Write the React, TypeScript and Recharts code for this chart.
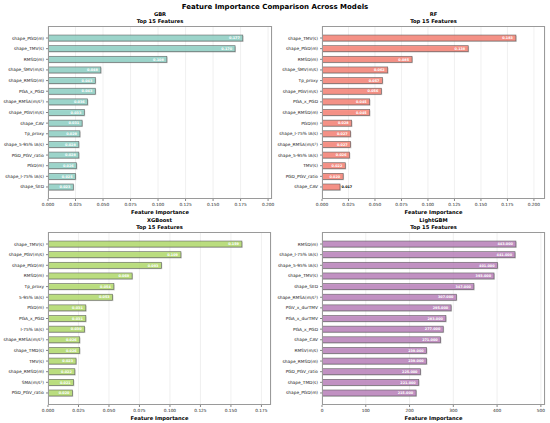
import { BarChart, Bar, XAxis, YAxis, CartesianGrid, LabelList } from "recharts";

const FONT = "'DejaVu Sans', sans-serif";

const gbrFeatures = ["shape_PGD(m)", "shape_TMV(s)", "RMSD(m)", "shape_SMV(m/s)", "shape_RMSD(m)", "PGA_x_PGD", "shape_RMSA(m/s²)", "shape_PGV(m/s)", "shape_CAV", "Tp_proxy", "shape_5-95% IA(s)", "PGD_PGV_ratio", "PGD(m)", "shape_I-75% IA(s)", "shape_SED"];
const gbrImportance = [0.177, 0.17, 0.108, 0.048, 0.043, 0.043, 0.036, 0.033, 0.031, 0.029, 0.028, 0.028, 0.026, 0.025, 0.023];

const rfFeatures = ["shape_TMV(s)", "shape_PGD(m)", "RMSD(m)", "shape_SMV(m/s)", "Tp_proxy", "shape_PGV(m/s)", "PGA_x_PGD", "shape_RMSD(m)", "PGD(m)", "shape_I-75% IA(s)", "shape_RMSA(m/s²)", "shape_5-95% IA(s)", "TMV(s)", "PGD_PGV_ratio", "shape_CAV"];
const rfImportance = [0.183, 0.138, 0.085, 0.062, 0.057, 0.056, 0.045, 0.045, 0.028, 0.027, 0.027, 0.026, 0.022, 0.02, 0.017];

const xgbFeatures = ["shape_TMV(s)", "shape_PGV(m/s)", "shape_PGD(m)", "RMSD(m)", "Tp_proxy", "5-95% IA(s)", "PGD(m)", "PGA_x_PGD", "I-75% IA(s)", "shape_RMSA(m/s²)", "shape_TMD(s)", "TMV(s)", "shape_RMSD(m)", "SMA(m/s²)", "PGD_PGV_ratio"];
const xgbImportance = [0.159, 0.109, 0.093, 0.069, 0.054, 0.053, 0.031, 0.031, 0.03, 0.026, 0.026, 0.023, 0.022, 0.021, 0.02];

const lgbmFeatures = ["RMSD(m)", "shape_I-75% IA(s)", "shape_5-95% IA(s)", "shape_TMV(s)", "shape_SED", "shape_RMSA(m/s²)", "PGV_x_durTMV", "PGA_x_durTMV", "PGA_x_PGD", "shape_CAV", "RMSV(m/s)", "shape_RMSD(m)", "PGD_PGV_ratio", "shape_TMD(s)", "shape_PGD(m)"];
const lgbmImportance = [443, 441, 401, 393, 347, 307, 295, 283, 277, 271, 239, 239, 225, 221, 215];

const ticks200 = [0, 0.025, 0.05, 0.075, 0.1, 0.125, 0.15, 0.175, 0.2];
const ticks175 = [0, 0.025, 0.05, 0.075, 0.1, 0.125, 0.15, 0.175];
const ticks500 = [0, 100, 200, 300, 400, 500];

const CHART_W = 275;
const CHART_H = 216;
const PLOT_TOP = 26;
const X_AXIS_H = 17;
const TICK_FONT = 4.3;

const ShadowBar = (props: any) => {
  const { x, y, width, height, fill } = props;
  if (!width || width <= 0) return null;
  return (
    <g>
      <rect x={x + 0.9} y={y + 0.9} width={width} height={height} fill="#8c8c8c" opacity={0.35} />
      <rect x={x} y={y} width={width} height={height} fill={fill} fillOpacity={0.8} stroke="#4a4a4a" strokeOpacity={0.75} strokeWidth={0.7} />
    </g>
  );
};

const YTick = (p: any) => (
  <text x={p.x} y={p.y} dy="0.35em" textAnchor="end" fontSize={TICK_FONT} fill="#222" fontFamily={FONT}>
    {p.payload.value}
  </text>
);

function Panel({ model, names, values, color, ticks, tickDecimals, labelDecimals, left, top, axisW, rightPad }: {
  model: string;
  names: string[];
  values: number[];
  color: string;
  ticks: number[];
  tickDecimals: number;
  labelDecimals: number;
  left: number;
  top: number;
  axisW: number;
  rightPad: number;
}) {
  const rows = names.map((name, i) => ({ name, value: values[i] }));
  const maxVal = Math.max(...values);
  const plotW = CHART_W - axisW - rightPad;
  const plotH = CHART_H - PLOT_TOP - X_AXIS_H;

  const XTick = (p: any) => (
    <text x={p.x} y={p.y} dy="0.75em" textAnchor="middle" fontSize={TICK_FONT} fill="#222" fontFamily={FONT}>
      {Number(p.payload.value).toFixed(tickDecimals)}
    </text>
  );

  const renderLabel = (p: any) => {
    const { x, y, width, height, value } = p;
    const text = Number(value).toFixed(labelDecimals);
    const inside = value > maxVal * 0.1;
    return (
      <text
        x={inside ? x + width - 3 : x + width + 1.5}
        y={y + height / 2}
        dy="0.35em"
        textAnchor={inside ? "end" : "start"}
        fontSize={3.4}
        fontWeight="bold"
        fontFamily={FONT}
        fill={inside ? "#fff" : "#000"}
      >
        {text}
      </text>
    );
  };

  return (
    <div style={{ position: "absolute", left, top, width: CHART_W, height: CHART_H }}>
      <div style={{ position: "absolute", left: axisW, width: plotW, top: 11, textAlign: "center", fontFamily: FONT, fontWeight: "bold", fontSize: 5.2, lineHeight: "6.6px", color: "#000" }}>
        {model}
        <br />
        Top 15 Features
      </div>
      <BarChart
        width={CHART_W}
        height={CHART_H}
        data={rows}
        layout="vertical"
        margin={{ top: PLOT_TOP, right: rightPad, bottom: 0, left: 0 }}
        barCategoryGap="22%"
      >
        <CartesianGrid horizontal={false} stroke="#e6e6e6" strokeWidth={0.6} />
        <XAxis
          type="number"
          domain={[0, maxVal * 1.15]}
          ticks={ticks}
          interval={0}
          allowDataOverflow
          height={X_AXIS_H}
          axisLine={false}
          tickSize={2}
          tickLine={{ stroke: "#333", strokeWidth: 0.6 }}
          tick={XTick}
          label={{ value: "Feature Importance", position: "insideBottom", offset: 2.5, fontSize: 5.2, fontWeight: "bold", fill: "#000", fontFamily: FONT }}
        />
        <YAxis
          type="category"
          dataKey="name"
          width={axisW}
          interval={0}
          padding={{ top: 6.7, bottom: 6.7 }}
          axisLine={false}
          tickSize={2}
          tickLine={{ stroke: "#333", strokeWidth: 0.6 }}
          tick={YTick}
        />
        <Bar dataKey="value" fill={color} shape={ShadowBar} isAnimationActive={false}>
          <LabelList dataKey="value" content={renderLabel} />
        </Bar>
      </BarChart>
      <div style={{ position: "absolute", left: axisW, top: PLOT_TOP, width: plotW, height: plotH, border: "1px solid #9a9a9a", boxSizing: "border-box", pointerEvents: "none" }} />
    </div>
  );
}

export default function App() {
  return (
    <div style={{ position: "absolute", left: 0, top: 0, width: 550, height: 423, background: "#fff", overflow: "hidden" }}>
      <div style={{ position: "absolute", left: 0, top: 3, width: 550, textAlign: "center", fontFamily: FONT, fontWeight: "bold", fontSize: 7, color: "#000" }}>
        Feature Importance Comparison Across Models
      </div>
      <Panel model="GBR" names={gbrFeatures} values={gbrImportance} color="#8dd3c7" ticks={ticks200} tickDecimals={3} labelDecimals={3} left={0} top={0} axisW={48} rightPad={3} />
      <Panel model="RF" names={rfFeatures} values={rfImportance} color="#fb8072" ticks={ticks200} tickDecimals={3} labelDecimals={3} left={275} top={0} axisW={47} rightPad={5} />
      <Panel model="XGBoost" names={xgbFeatures} values={xgbImportance} color="#b3de69" ticks={ticks175} tickDecimals={3} labelDecimals={3} left={0} top={206} axisW={48} rightPad={4} />
      <Panel model="LightGBM" names={lgbmFeatures} values={lgbmImportance} color="#bc80bd" ticks={ticks500} tickDecimals={0} labelDecimals={3} left={275} top={206} axisW={47} rightPad={5} />
    </div>
  );
}
